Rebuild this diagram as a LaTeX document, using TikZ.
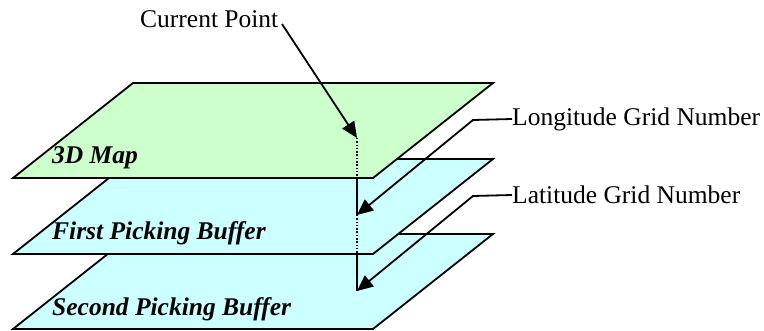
\documentclass[tikz,border=0pt]{standalone}
\usepackage{fontspec}
\setmainfont{Liberation Serif}
\usetikzlibrary{arrows.meta}
\definecolor{mapgreen}{HTML}{CCFFCC}
\definecolor{bufcyan}{HTML}{CCFFFF}
\tikzset{
  layer/.style={draw=black, line width=1.8pt, line join=miter},
  lbl/.style={inner sep=0pt, font=\fontsize{25.5}{30}\selectfont},
  layerlbl/.style={inner sep=0pt, font=\fontsize{25.5}{30}\selectfont\bfseries\itshape},
  pointer/.style={draw=black, line width=1.8pt, -{Triangle[length=16pt,width=14pt]}},
  solidv/.style={draw=black, line width=1.8pt},
  dottedv/.style={draw=black, line width=1.6pt, dash pattern=on 1.5pt off 1.8pt},
}
\begin{document}
\begin{tikzpicture}[x=1pt,y=-1pt]
\useasboundingbox (0,0) rectangle (764,331);
% layers, bottom first
\path[layer, fill=bufcyan] (13,329) -- (373,329) -- (493,234) -- (133,234) -- cycle;
\path[layer, fill=bufcyan] (13,254) -- (373,254) -- (493,159) -- (133,159) -- cycle;
\path[layer, fill=mapgreen] (13,178) -- (373,178) -- (493,83) -- (133,83) -- cycle;
% layer labels
\node[layerlbl, anchor=base west] (map) at (52,164) {3D Map};
\node[layerlbl, anchor=base west] (first) at (52,240) {First Picking Buffer};
\node[layerlbl, anchor=base west] (second) at (52,316) {Second Picking Buffer};
% side labels
\node[lbl, anchor=base west] (cur) at (140,28) {Current Point};
\node[lbl, anchor=west] (lon) at (512,119) {Longitude Grid Number};
\node[lbl, anchor=west] (lat) at (512,195) {Latitude Grid Number};
% key points
\coordinate (curstart) at (282,24);
\coordinate (p0) at (357,138);
\coordinate (p1) at (357,178);
\coordinate (p2) at (357,215);
\coordinate (p3) at (357,254);
\coordinate (p4) at (357,291);
\coordinate (lonbend) at (473,120);
\coordinate (latbend) at (473,196);
% vertical line through the layers
\draw[dottedv] (p0) -- (p1);
\draw[solidv] (p1) -- (p2);
\draw[dottedv] (p2) -- (p3);
\draw[solidv] (p3) -- (p4);
% pointers
\draw[pointer] (curstart) -- (p0);
\draw[pointer] (lon.west) -- (lonbend) -- (p2);
\draw[pointer] (lat.west) -- (latbend) -- (p4);
\end{tikzpicture}
\end{document}
